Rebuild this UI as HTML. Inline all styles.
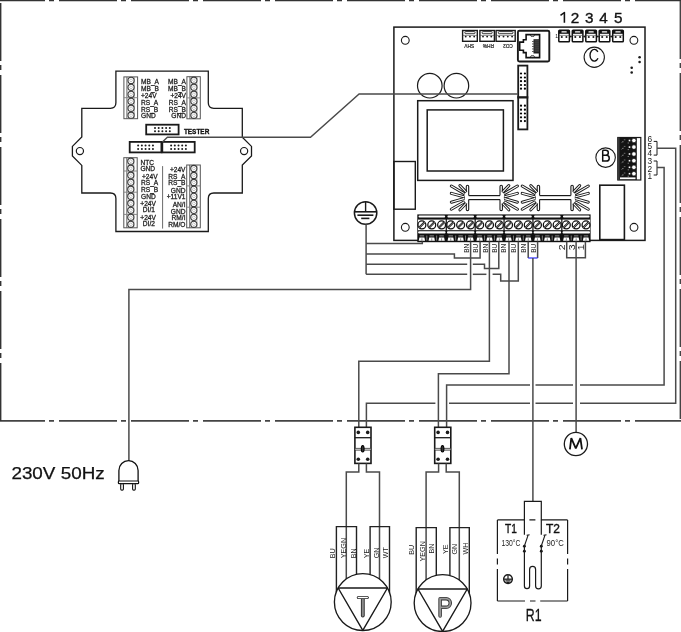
<!DOCTYPE html>
<html><head><meta charset="utf-8"><style>
html,body{margin:0;padding:0;background:#fff;}
svg{display:block;will-change:transform;}
text{font-family:"Liberation Sans", sans-serif;}
</style></head><body>
<svg width="681" height="632" viewBox="0 0 681 632">

<line x1="-13" y1="0.6" x2="681" y2="0.6" stroke="#333" stroke-width="1.5" stroke-dasharray="58 4 5 5"/>
<line x1="-13" y1="420.9" x2="681" y2="420.9" stroke="#444" stroke-width="1.6" stroke-dasharray="58 4 5 5"/>
<line x1="0.6" y1="3" x2="0.6" y2="421" stroke="#333" stroke-width="1.6" stroke-dasharray="58 4 5 5"/>
<line x1="680.35" y1="1" x2="680.35" y2="421" stroke="#444" stroke-width="1.5" stroke-dasharray="58 4 5 5"/>
<rect x="393.9" y="27.1" width="251.1" height="213.3" rx="0" fill="none" stroke="#1a1a1a" stroke-width="1.5" />
<circle cx="405.3" cy="40.3" r="3.9" fill="none" stroke="#1a1a1a" stroke-width="1.1"/>
<circle cx="633.9" cy="40.3" r="3.9" fill="none" stroke="#1a1a1a" stroke-width="1.1"/>
<circle cx="405.3" cy="227.3" r="3.9" fill="none" stroke="#1a1a1a" stroke-width="1.1"/>
<circle cx="634" cy="227.3" r="3.9" fill="none" stroke="#1a1a1a" stroke-width="1.1"/>
<circle cx="429.8" cy="85.7" r="12.3" fill="none" stroke="#1a1a1a" stroke-width="1.2"/>
<circle cx="456.4" cy="85.7" r="12.3" fill="none" stroke="#1a1a1a" stroke-width="1.2"/>
<rect x="417.7" y="100.7" width="95.3" height="79.7" rx="0" fill="none" stroke="#1a1a1a" stroke-width="1.5" />
<rect x="427.2" y="109.9" width="76.2" height="61.1" rx="0" fill="none" stroke="#1a1a1a" stroke-width="1.5" />
<rect x="393.9" y="161.5" width="21.4" height="47.7" rx="0" fill="none" stroke="#1a1a1a" stroke-width="1.4" />
<rect x="599.8" y="185.2" width="24.6" height="54.4" rx="0" fill="none" stroke="#1a1a1a" stroke-width="1.6" />
<rect x="518.2" y="65.6" width="9.2" height="63.8" rx="0" fill="none" stroke="#1a1a1a" stroke-width="1.8" />
<rect x="517.3" y="96.2" width="11.0" height="2.3" fill="#1a1a1a"/>
<circle cx="521" cy="73.5" r="1.1" fill="#000"/>
<circle cx="524.9" cy="73.5" r="1.1" fill="#000"/>
<circle cx="521" cy="77.5" r="1.1" fill="#000"/>
<circle cx="524.9" cy="77.5" r="1.1" fill="#000"/>
<circle cx="521" cy="81.2" r="1.1" fill="#000"/>
<circle cx="524.9" cy="81.2" r="1.1" fill="#000"/>
<circle cx="521" cy="85" r="1.1" fill="#000"/>
<circle cx="524.9" cy="85" r="1.1" fill="#000"/>
<circle cx="521" cy="88.7" r="1.1" fill="#000"/>
<circle cx="524.9" cy="88.7" r="1.1" fill="#000"/>
<circle cx="521" cy="105.7" r="1.1" fill="#000"/>
<circle cx="524.9" cy="105.7" r="1.1" fill="#000"/>
<circle cx="521" cy="109.7" r="1.1" fill="#000"/>
<circle cx="524.9" cy="109.7" r="1.1" fill="#000"/>
<circle cx="521" cy="113.5" r="1.1" fill="#000"/>
<circle cx="524.9" cy="113.5" r="1.1" fill="#000"/>
<circle cx="521" cy="117.3" r="1.1" fill="#000"/>
<circle cx="524.9" cy="117.3" r="1.1" fill="#000"/>
<circle cx="521" cy="121.1" r="1.1" fill="#000"/>
<circle cx="524.9" cy="121.1" r="1.1" fill="#000"/>
<rect x="517.9" y="30.8" width="31.4" height="30.7" rx="1.5" fill="none" stroke="#1a1a1a" stroke-width="1.9" />
<path d="M526.1,34.6 H539.6 V57.6 H526.1 V52.6 H523.4 V50.3 H519.7 V42.1 H523.4 V39.7 H526.1 Z" fill="none" stroke="#111" stroke-width="1.6"/>
<rect x="533.5" y="39.2" width="6.1" height="14.3" fill="#222"/>
<rect x="534.5" y="40.6" width="4.5" height="0.7" fill="#666"/>
<rect x="534.5" y="42.6" width="4.5" height="0.7" fill="#666"/>
<rect x="534.5" y="44.6" width="4.5" height="0.7" fill="#666"/>
<rect x="534.5" y="46.6" width="4.5" height="0.7" fill="#666"/>
<rect x="534.5" y="48.6" width="4.5" height="0.7" fill="#666"/>
<rect x="534.5" y="50.6" width="4.5" height="0.7" fill="#666"/>
<rect x="532.2" y="41" width="1.4" height="0.9" fill="#222"/>
<rect x="532.2" y="43.5" width="1.4" height="0.9" fill="#222"/>
<rect x="532.2" y="46" width="1.4" height="0.9" fill="#222"/>
<rect x="532.2" y="48.5" width="1.4" height="0.9" fill="#222"/>
<rect x="532.2" y="51" width="1.4" height="0.9" fill="#222"/>
<ellipse cx="532.5" cy="35.5" rx="2" ry="1" fill="none" stroke="#222" stroke-width="0.8"/>
<ellipse cx="532.5" cy="56.6" rx="2" ry="1" fill="none" stroke="#222" stroke-width="0.8"/>
<rect x="462.6" y="30.5" width="14.7" height="10.8" rx="0" fill="none" stroke="#1a1a1a" stroke-width="1.4" />
<rect x="464.8" y="31.6" width="10.3" height="2.1" rx="1" fill="#fff" stroke="#222" stroke-width="0.9"/>
<line x1="462.6" y1="35.4" x2="477.3" y2="35.4" stroke="#444" stroke-width="0.6" />
<circle cx="465.7" cy="36.6" r="0.95" fill="#1a1a1a"/>
<circle cx="469.95" cy="36.6" r="0.95" fill="#1a1a1a"/>
<circle cx="474.2" cy="36.6" r="0.95" fill="#1a1a1a"/>
<rect x="479.9" y="30.5" width="14.5" height="10.8" rx="0" fill="none" stroke="#1a1a1a" stroke-width="1.4" />
<rect x="482.09999999999997" y="31.6" width="10.1" height="2.1" rx="1" fill="#fff" stroke="#222" stroke-width="0.9"/>
<line x1="479.9" y1="35.4" x2="494.4" y2="35.4" stroke="#444" stroke-width="0.6" />
<circle cx="483.0" cy="36.6" r="0.95" fill="#1a1a1a"/>
<circle cx="487.15" cy="36.6" r="0.95" fill="#1a1a1a"/>
<circle cx="491.3" cy="36.6" r="0.95" fill="#1a1a1a"/>
<rect x="496.1" y="30.5" width="19.1" height="10.8" rx="0" fill="none" stroke="#1a1a1a" stroke-width="1.4" />
<rect x="498.3" y="31.6" width="14.7" height="2.1" rx="1" fill="#fff" stroke="#222" stroke-width="0.9"/>
<line x1="496.1" y1="35.4" x2="515.2" y2="35.4" stroke="#444" stroke-width="0.6" />
<circle cx="499.2" cy="36.6" r="0.95" fill="#1a1a1a"/>
<circle cx="503.5" cy="36.6" r="0.95" fill="#1a1a1a"/>
<circle cx="507.8" cy="36.6" r="0.95" fill="#1a1a1a"/>
<circle cx="512.1" cy="36.6" r="0.95" fill="#1a1a1a"/>
<g fill="#222" font-size="5" text-anchor="middle" stroke="#222" stroke-width="0.2"><text transform="translate(469.3,43.7) rotate(180)" textLength="9.8" lengthAdjust="spacingAndGlyphs">SHV</text><text transform="translate(488.4,43.7) rotate(180)" textLength="11" lengthAdjust="spacingAndGlyphs">RH%</text><text transform="translate(508,43.7) rotate(180)" textLength="9.7" lengthAdjust="spacingAndGlyphs">CO2</text></g>
<rect x="558.8" y="30.3" width="10.6" height="11.5" rx="0.8" fill="#fff" stroke="#111" stroke-width="1.5"/>
<rect x="558.8" y="30.3" width="10.6" height="3.5" fill="#111"/>
<rect x="561.4" y="31.2" width="5.4" height="1.4" rx="0.6" fill="#fff"/>
<line x1="558.8" y1="35.4" x2="569.4" y2="35.4" stroke="#444" stroke-width="0.6" />
<circle cx="561.8" cy="37" r="1.05" fill="#1a1a1a"/>
<circle cx="566.4" cy="37" r="1.05" fill="#1a1a1a"/>
<circle cx="570.8" cy="36.6" r="1.0" fill="#1a1a1a"/>
<rect x="572.3" y="30.3" width="10.6" height="11.5" rx="0.8" fill="#fff" stroke="#111" stroke-width="1.5"/>
<rect x="572.3" y="30.3" width="10.6" height="3.5" fill="#111"/>
<rect x="574.9" y="31.2" width="5.4" height="1.4" rx="0.6" fill="#fff"/>
<line x1="572.3" y1="35.4" x2="582.9" y2="35.4" stroke="#444" stroke-width="0.6" />
<circle cx="575.3" cy="37" r="1.05" fill="#1a1a1a"/>
<circle cx="579.9" cy="37" r="1.05" fill="#1a1a1a"/>
<circle cx="584.3" cy="36.6" r="1.0" fill="#1a1a1a"/>
<rect x="585.8" y="30.3" width="10.6" height="11.5" rx="0.8" fill="#fff" stroke="#111" stroke-width="1.5"/>
<rect x="585.8" y="30.3" width="10.6" height="3.5" fill="#111"/>
<rect x="588.4" y="31.2" width="5.4" height="1.4" rx="0.6" fill="#fff"/>
<line x1="585.8" y1="35.4" x2="596.4" y2="35.4" stroke="#444" stroke-width="0.6" />
<circle cx="588.8" cy="37" r="1.05" fill="#1a1a1a"/>
<circle cx="593.4" cy="37" r="1.05" fill="#1a1a1a"/>
<circle cx="597.8" cy="36.6" r="1.0" fill="#1a1a1a"/>
<rect x="599.2" y="30.3" width="10.6" height="11.5" rx="0.8" fill="#fff" stroke="#111" stroke-width="1.5"/>
<rect x="599.2" y="30.3" width="10.6" height="3.5" fill="#111"/>
<rect x="601.8000000000001" y="31.2" width="5.4" height="1.4" rx="0.6" fill="#fff"/>
<line x1="599.2" y1="35.4" x2="609.8000000000001" y2="35.4" stroke="#444" stroke-width="0.6" />
<circle cx="602.2" cy="37" r="1.05" fill="#1a1a1a"/>
<circle cx="606.8000000000001" cy="37" r="1.05" fill="#1a1a1a"/>
<circle cx="611.2" cy="36.6" r="1.0" fill="#1a1a1a"/>
<rect x="612.7" y="30.3" width="10.6" height="11.5" rx="0.8" fill="#fff" stroke="#111" stroke-width="1.5"/>
<rect x="612.7" y="30.3" width="10.6" height="3.5" fill="#111"/>
<rect x="615.3000000000001" y="31.2" width="5.4" height="1.4" rx="0.6" fill="#fff"/>
<line x1="612.7" y1="35.4" x2="623.3000000000001" y2="35.4" stroke="#444" stroke-width="0.6" />
<circle cx="615.7" cy="37" r="1.05" fill="#1a1a1a"/>
<circle cx="620.3000000000001" cy="37" r="1.05" fill="#1a1a1a"/>
<text x="555.3" y="38.3" font-size="5" fill="#111">1</text>
<path d="M560.5,15.4 L564.4,12.5 V22.8" fill="none" stroke="#111" stroke-width="1.55" stroke-linejoin="round"/>
<text x="575.1" y="22.8" font-size="15.3" text-anchor="middle" fill="#111" font-weight="normal" stroke="#111" stroke-width="0.35">2</text>
<text x="589.3" y="22.8" font-size="15.3" text-anchor="middle" fill="#111" font-weight="normal" stroke="#111" stroke-width="0.35">3</text>
<text x="603.6" y="22.8" font-size="15.3" text-anchor="middle" fill="#111" font-weight="normal" stroke="#111" stroke-width="0.35">4</text>
<text x="618.2" y="22.8" font-size="15.3" text-anchor="middle" fill="#111" font-weight="normal" stroke="#111" stroke-width="0.35">5</text>
<circle cx="594.25" cy="57.25" r="10.15" fill="none" stroke="#1a1a1a" stroke-width="1.1"/>
<path d="M597.85,51.9 A4.3,5.85 0 1 0 598.0,58.3" fill="none" stroke="#111" stroke-width="1.35"/>
<circle cx="639.6" cy="57.3" r="1.3" fill="#1a1a1a"/>
<circle cx="639.6" cy="62" r="1.3" fill="#1a1a1a"/>
<circle cx="631.7" cy="67.7" r="1.3" fill="#1a1a1a"/>
<circle cx="631.7" cy="72.5" r="1.3" fill="#1a1a1a"/>
<circle cx="605.6" cy="157.6" r="9.75" fill="none" stroke="#1a1a1a" stroke-width="1.1"/>
<path d="M602.7,150.3 V161 H606.4 A2.85,2.85 0 0 0 606.4,155.3 H602.7 M602.7,150.3 H605.8 A2.5,2.5 0 0 1 605.8,155.3" fill="none" stroke="#111" stroke-width="1.5"/>
<rect x="617.8" y="137.5" width="23.0" height="42.5" rx="0" fill="none" stroke="#1a1a1a" stroke-width="1.2" />
<rect x="617.8" y="137.5" width="19.0" height="42.5" fill="#141414"/>
<rect x="617.8" y="137.5" width="1.8" height="42.5" fill="#3a3a3a"/>
<circle cx="633.9" cy="140.5" r="2.25" fill="#fff" stroke="#111" stroke-width="0.7"/>
<rect x="628.7" y="139.7" width="1.6" height="1.6" fill="#fff"/>
<rect x="627.6" y="142.5" width="1.4" height="1.0" fill="#777"/>
<rect x="622.0" y="141.3" width="1.6" height="1.0" fill="#6a6a6a"/>
<rect x="623.8" y="139.3" width="1.6" height="1.0" fill="#6a6a6a"/>
<line x1="621.3" y1="143.1" x2="623.2" y2="141.1" stroke="#777" stroke-width="0.6"/>
<circle cx="633.9" cy="147.1" r="2.25" fill="#fff" stroke="#111" stroke-width="0.7"/>
<rect x="628.7" y="146.29999999999998" width="1.6" height="1.6" fill="#fff"/>
<rect x="627.6" y="149.1" width="1.4" height="1.0" fill="#777"/>
<rect x="622.0" y="147.9" width="1.6" height="1.0" fill="#6a6a6a"/>
<rect x="623.8" y="145.9" width="1.6" height="1.0" fill="#6a6a6a"/>
<line x1="621.3" y1="149.7" x2="623.2" y2="147.7" stroke="#777" stroke-width="0.6"/>
<circle cx="633.9" cy="154" r="2.25" fill="#fff" stroke="#111" stroke-width="0.7"/>
<rect x="628.7" y="153.2" width="1.6" height="1.6" fill="#fff"/>
<rect x="627.6" y="156.0" width="1.4" height="1.0" fill="#777"/>
<rect x="622.0" y="154.8" width="1.6" height="1.0" fill="#6a6a6a"/>
<rect x="623.8" y="152.8" width="1.6" height="1.0" fill="#6a6a6a"/>
<line x1="621.3" y1="156.6" x2="623.2" y2="154.6" stroke="#777" stroke-width="0.6"/>
<circle cx="633.9" cy="160.7" r="2.25" fill="#fff" stroke="#111" stroke-width="0.7"/>
<rect x="628.7" y="159.89999999999998" width="1.6" height="1.6" fill="#fff"/>
<rect x="627.6" y="162.7" width="1.4" height="1.0" fill="#777"/>
<rect x="622.0" y="161.5" width="1.6" height="1.0" fill="#6a6a6a"/>
<rect x="623.8" y="159.5" width="1.6" height="1.0" fill="#6a6a6a"/>
<line x1="621.3" y1="163.29999999999998" x2="623.2" y2="161.29999999999998" stroke="#777" stroke-width="0.6"/>
<circle cx="633.9" cy="167.3" r="2.25" fill="#fff" stroke="#111" stroke-width="0.7"/>
<rect x="628.7" y="166.5" width="1.6" height="1.6" fill="#fff"/>
<rect x="627.6" y="169.3" width="1.4" height="1.0" fill="#777"/>
<rect x="622.0" y="168.10000000000002" width="1.6" height="1.0" fill="#6a6a6a"/>
<rect x="623.8" y="166.10000000000002" width="1.6" height="1.0" fill="#6a6a6a"/>
<line x1="621.3" y1="169.9" x2="623.2" y2="167.9" stroke="#777" stroke-width="0.6"/>
<circle cx="633.9" cy="173.7" r="2.25" fill="#fff" stroke="#111" stroke-width="0.7"/>
<rect x="628.7" y="172.89999999999998" width="1.6" height="1.6" fill="#fff"/>
<rect x="627.6" y="175.7" width="1.4" height="1.0" fill="#777"/>
<rect x="622.0" y="174.5" width="1.6" height="1.0" fill="#6a6a6a"/>
<rect x="623.8" y="172.5" width="1.6" height="1.0" fill="#6a6a6a"/>
<line x1="621.3" y1="176.29999999999998" x2="623.2" y2="174.29999999999998" stroke="#777" stroke-width="0.6"/>
<rect x="620" y="177.4" width="15.5" height="1.8" fill="#fff"/>
<text x="649.9" y="141.70000000000002" font-size="8.3" text-anchor="middle" fill="#222" font-weight="normal" >6</text>
<text x="649.9" y="148.9" font-size="8.3" text-anchor="middle" fill="#222" font-weight="normal" >5</text>
<text x="649.9" y="156.1" font-size="8.3" text-anchor="middle" fill="#222" font-weight="normal" >4</text>
<text x="649.9" y="163.9" font-size="8.3" text-anchor="middle" fill="#222" font-weight="normal" >3</text>
<text x="649.9" y="171.6" font-size="8.3" text-anchor="middle" fill="#222" font-weight="normal" >2</text>
<text x="649.9" y="178.8" font-size="8.3" text-anchor="middle" fill="#222" font-weight="normal" >1</text>
<polyline points="653.7,141.4 657,141.4 657,155.1 653.7,155.1" fill="none" stroke="#1a1a1a" stroke-width="1" stroke-linejoin="miter" />
<polyline points="653.7,161 657,161 657,175 653.7,175" fill="none" stroke="#1a1a1a" stroke-width="1" stroke-linejoin="miter" />
<line x1="451.30" y1="186.0" x2="463.90" y2="193.4" stroke="#1a1a1a" stroke-width="3.0" stroke-linecap="round"/>
<line x1="459.90" y1="185.6" x2="465.70" y2="191.6" stroke="#1a1a1a" stroke-width="3.0" stroke-linecap="round"/>
<line x1="451.30" y1="193.4" x2="463.90" y2="196.8" stroke="#1a1a1a" stroke-width="3.0" stroke-linecap="round"/>
<line x1="451.30" y1="202.2" x2="463.90" y2="198.6" stroke="#1a1a1a" stroke-width="3.0" stroke-linecap="round"/>
<line x1="451.30" y1="209.3" x2="463.90" y2="202.0" stroke="#1a1a1a" stroke-width="3.0" stroke-linecap="round"/>
<line x1="459.90" y1="209.8" x2="465.70" y2="203.8" stroke="#1a1a1a" stroke-width="3.0" stroke-linecap="round"/>
<line x1="451.30" y1="186.0" x2="463.90" y2="193.4" stroke="#fff" stroke-width="1.1" stroke-linecap="round"/>
<line x1="459.90" y1="185.6" x2="465.70" y2="191.6" stroke="#fff" stroke-width="1.1" stroke-linecap="round"/>
<line x1="451.30" y1="193.4" x2="463.90" y2="196.8" stroke="#fff" stroke-width="1.1" stroke-linecap="round"/>
<line x1="451.30" y1="202.2" x2="463.90" y2="198.6" stroke="#fff" stroke-width="1.1" stroke-linecap="round"/>
<line x1="451.30" y1="209.3" x2="463.90" y2="202.0" stroke="#fff" stroke-width="1.1" stroke-linecap="round"/>
<line x1="459.90" y1="209.8" x2="465.70" y2="203.8" stroke="#fff" stroke-width="1.1" stroke-linecap="round"/>
<path d="M467.50,191.2 L464.50,193.9 L464.90,197.7 L464.50,201.5 L467.50,204.2 Z" fill="#fff"/>
<path d="M468.70,195.6 V186.4 A1.2,1.2 0 0 0 466.30,186.4 V191.2" fill="none" stroke="#1a1a1a" stroke-width="1.1"/>
<path d="M468.70,199.6 V209.4 A1.2,1.2 0 0 1 466.30,209.4 V204.2" fill="none" stroke="#1a1a1a" stroke-width="1.1"/>
<line x1="517.40" y1="186.0" x2="504.80" y2="193.4" stroke="#1a1a1a" stroke-width="3.0" stroke-linecap="round"/>
<line x1="508.80" y1="185.6" x2="503.00" y2="191.6" stroke="#1a1a1a" stroke-width="3.0" stroke-linecap="round"/>
<line x1="517.40" y1="193.4" x2="504.80" y2="196.8" stroke="#1a1a1a" stroke-width="3.0" stroke-linecap="round"/>
<line x1="517.40" y1="202.2" x2="504.80" y2="198.6" stroke="#1a1a1a" stroke-width="3.0" stroke-linecap="round"/>
<line x1="517.40" y1="209.3" x2="504.80" y2="202.0" stroke="#1a1a1a" stroke-width="3.0" stroke-linecap="round"/>
<line x1="508.80" y1="209.8" x2="503.00" y2="203.8" stroke="#1a1a1a" stroke-width="3.0" stroke-linecap="round"/>
<line x1="517.40" y1="186.0" x2="504.80" y2="193.4" stroke="#fff" stroke-width="1.1" stroke-linecap="round"/>
<line x1="508.80" y1="185.6" x2="503.00" y2="191.6" stroke="#fff" stroke-width="1.1" stroke-linecap="round"/>
<line x1="517.40" y1="193.4" x2="504.80" y2="196.8" stroke="#fff" stroke-width="1.1" stroke-linecap="round"/>
<line x1="517.40" y1="202.2" x2="504.80" y2="198.6" stroke="#fff" stroke-width="1.1" stroke-linecap="round"/>
<line x1="517.40" y1="209.3" x2="504.80" y2="202.0" stroke="#fff" stroke-width="1.1" stroke-linecap="round"/>
<line x1="508.80" y1="209.8" x2="503.00" y2="203.8" stroke="#fff" stroke-width="1.1" stroke-linecap="round"/>
<path d="M501.20,191.2 L504.20,193.9 L503.80,197.7 L504.20,201.5 L501.20,204.2 Z" fill="#fff"/>
<path d="M500.00,195.6 V186.4 A1.2,1.2 0 0 1 502.40,186.4 V191.2" fill="none" stroke="#1a1a1a" stroke-width="1.1"/>
<path d="M500.00,199.6 V209.4 A1.2,1.2 0 0 0 502.40,209.4 V204.2" fill="none" stroke="#1a1a1a" stroke-width="1.1"/>
<line x1="468.7" y1="195.6" x2="500.0" y2="195.6" stroke="#1a1a1a" stroke-width="1.2" />
<line x1="468.7" y1="199.6" x2="500.0" y2="199.6" stroke="#1a1a1a" stroke-width="1.2" />
<line x1="522.20" y1="186.0" x2="534.80" y2="193.4" stroke="#1a1a1a" stroke-width="3.0" stroke-linecap="round"/>
<line x1="530.80" y1="185.6" x2="536.60" y2="191.6" stroke="#1a1a1a" stroke-width="3.0" stroke-linecap="round"/>
<line x1="522.20" y1="193.4" x2="534.80" y2="196.8" stroke="#1a1a1a" stroke-width="3.0" stroke-linecap="round"/>
<line x1="522.20" y1="202.2" x2="534.80" y2="198.6" stroke="#1a1a1a" stroke-width="3.0" stroke-linecap="round"/>
<line x1="522.20" y1="209.3" x2="534.80" y2="202.0" stroke="#1a1a1a" stroke-width="3.0" stroke-linecap="round"/>
<line x1="530.80" y1="209.8" x2="536.60" y2="203.8" stroke="#1a1a1a" stroke-width="3.0" stroke-linecap="round"/>
<line x1="522.20" y1="186.0" x2="534.80" y2="193.4" stroke="#fff" stroke-width="1.1" stroke-linecap="round"/>
<line x1="530.80" y1="185.6" x2="536.60" y2="191.6" stroke="#fff" stroke-width="1.1" stroke-linecap="round"/>
<line x1="522.20" y1="193.4" x2="534.80" y2="196.8" stroke="#fff" stroke-width="1.1" stroke-linecap="round"/>
<line x1="522.20" y1="202.2" x2="534.80" y2="198.6" stroke="#fff" stroke-width="1.1" stroke-linecap="round"/>
<line x1="522.20" y1="209.3" x2="534.80" y2="202.0" stroke="#fff" stroke-width="1.1" stroke-linecap="round"/>
<line x1="530.80" y1="209.8" x2="536.60" y2="203.8" stroke="#fff" stroke-width="1.1" stroke-linecap="round"/>
<path d="M538.40,191.2 L535.40,193.9 L535.80,197.7 L535.40,201.5 L538.40,204.2 Z" fill="#fff"/>
<path d="M539.60,195.6 V186.4 A1.2,1.2 0 0 0 537.20,186.4 V191.2" fill="none" stroke="#1a1a1a" stroke-width="1.1"/>
<path d="M539.60,199.6 V209.4 A1.2,1.2 0 0 1 537.20,209.4 V204.2" fill="none" stroke="#1a1a1a" stroke-width="1.1"/>
<line x1="588.30" y1="186.0" x2="575.70" y2="193.4" stroke="#1a1a1a" stroke-width="3.0" stroke-linecap="round"/>
<line x1="579.70" y1="185.6" x2="573.90" y2="191.6" stroke="#1a1a1a" stroke-width="3.0" stroke-linecap="round"/>
<line x1="588.30" y1="193.4" x2="575.70" y2="196.8" stroke="#1a1a1a" stroke-width="3.0" stroke-linecap="round"/>
<line x1="588.30" y1="202.2" x2="575.70" y2="198.6" stroke="#1a1a1a" stroke-width="3.0" stroke-linecap="round"/>
<line x1="588.30" y1="209.3" x2="575.70" y2="202.0" stroke="#1a1a1a" stroke-width="3.0" stroke-linecap="round"/>
<line x1="579.70" y1="209.8" x2="573.90" y2="203.8" stroke="#1a1a1a" stroke-width="3.0" stroke-linecap="round"/>
<line x1="588.30" y1="186.0" x2="575.70" y2="193.4" stroke="#fff" stroke-width="1.1" stroke-linecap="round"/>
<line x1="579.70" y1="185.6" x2="573.90" y2="191.6" stroke="#fff" stroke-width="1.1" stroke-linecap="round"/>
<line x1="588.30" y1="193.4" x2="575.70" y2="196.8" stroke="#fff" stroke-width="1.1" stroke-linecap="round"/>
<line x1="588.30" y1="202.2" x2="575.70" y2="198.6" stroke="#fff" stroke-width="1.1" stroke-linecap="round"/>
<line x1="588.30" y1="209.3" x2="575.70" y2="202.0" stroke="#fff" stroke-width="1.1" stroke-linecap="round"/>
<line x1="579.70" y1="209.8" x2="573.90" y2="203.8" stroke="#fff" stroke-width="1.1" stroke-linecap="round"/>
<path d="M572.10,191.2 L575.10,193.9 L574.70,197.7 L575.10,201.5 L572.10,204.2 Z" fill="#fff"/>
<path d="M570.90,195.6 V186.4 A1.2,1.2 0 0 1 573.30,186.4 V191.2" fill="none" stroke="#1a1a1a" stroke-width="1.1"/>
<path d="M570.90,199.6 V209.4 A1.2,1.2 0 0 0 573.30,209.4 V204.2" fill="none" stroke="#1a1a1a" stroke-width="1.1"/>
<line x1="539.6" y1="195.6" x2="570.9" y2="195.6" stroke="#1a1a1a" stroke-width="1.2" />
<line x1="539.6" y1="199.6" x2="570.9" y2="199.6" stroke="#1a1a1a" stroke-width="1.2" />
<rect x="417.3" y="214.4" width="173.3" height="27.8" fill="#111"/>
<rect x="418.50" y="215.6" width="26.68" height="2.0" rx="1" fill="#fff"/>
<rect x="418.0" y="219.6" width="27.68" height="10.6" fill="#fff"/>
<rect x="418.10" y="231.2" width="27.48" height="2.4" rx="1" fill="#fff"/>
<circle cx="421.90" cy="224.9" r="3.95" fill="#fff" stroke="#111" stroke-width="1.3"/>
<line x1="419.30" y1="227.5" x2="424.50" y2="222.3" stroke="#111" stroke-width="2.0"/>
<line x1="419.30" y1="227.5" x2="424.50" y2="222.3" stroke="#fff" stroke-width="0.5"/>
<line x1="419.70" y1="235.9" x2="424.10" y2="235.9" stroke="#9a9a9a" stroke-width="0.9"/>
<path d="M418.70,240.8 L419.40,237.6 H424.40 L425.10,240.8 Z" fill="#fff"/>
<line x1="421.90" y1="238.3" x2="421.90" y2="240.8" stroke="#555" stroke-width="0.7"/>
<line x1="426.80" y1="235.5" x2="426.80" y2="240.5" stroke="#888" stroke-width="0.9"/>
<circle cx="431.75" cy="224.9" r="3.95" fill="#fff" stroke="#111" stroke-width="1.3"/>
<line x1="429.15" y1="227.5" x2="434.35" y2="222.3" stroke="#111" stroke-width="2.0"/>
<line x1="429.15" y1="227.5" x2="434.35" y2="222.3" stroke="#fff" stroke-width="0.5"/>
<line x1="429.55" y1="235.9" x2="433.95" y2="235.9" stroke="#9a9a9a" stroke-width="0.9"/>
<path d="M428.55,240.8 L429.25,237.6 H434.25 L434.95,240.8 Z" fill="#fff"/>
<line x1="431.75" y1="238.3" x2="431.75" y2="240.8" stroke="#555" stroke-width="0.7"/>
<line x1="436.65" y1="235.5" x2="436.65" y2="240.5" stroke="#888" stroke-width="0.9"/>
<circle cx="441.60" cy="224.9" r="3.95" fill="#fff" stroke="#111" stroke-width="1.3"/>
<line x1="439.00" y1="227.5" x2="444.20" y2="222.3" stroke="#111" stroke-width="2.0"/>
<line x1="439.00" y1="227.5" x2="444.20" y2="222.3" stroke="#fff" stroke-width="0.5"/>
<line x1="439.40" y1="235.9" x2="443.80" y2="235.9" stroke="#9a9a9a" stroke-width="0.9"/>
<path d="M438.40,240.8 L439.10,237.6 H444.10 L444.80,240.8 Z" fill="#fff"/>
<line x1="441.60" y1="238.3" x2="441.60" y2="240.8" stroke="#555" stroke-width="0.7"/>
<rect x="447.38" y="215.6" width="26.68" height="2.0" rx="1" fill="#fff"/>
<rect x="446.88" y="219.6" width="27.69" height="10.6" fill="#fff"/>
<rect x="446.98" y="231.2" width="27.48" height="2.4" rx="1" fill="#fff"/>
<circle cx="450.78" cy="224.9" r="3.95" fill="#fff" stroke="#111" stroke-width="1.3"/>
<line x1="448.18" y1="227.5" x2="453.38" y2="222.3" stroke="#111" stroke-width="2.0"/>
<line x1="448.18" y1="227.5" x2="453.38" y2="222.3" stroke="#fff" stroke-width="0.5"/>
<line x1="448.58" y1="235.9" x2="452.98" y2="235.9" stroke="#9a9a9a" stroke-width="0.9"/>
<path d="M447.58,240.8 L448.28,237.6 H453.28 L453.98,240.8 Z" fill="#fff"/>
<line x1="450.78" y1="238.3" x2="450.78" y2="240.8" stroke="#555" stroke-width="0.7"/>
<line x1="455.68" y1="235.5" x2="455.68" y2="240.5" stroke="#888" stroke-width="0.9"/>
<circle cx="460.63" cy="224.9" r="3.95" fill="#fff" stroke="#111" stroke-width="1.3"/>
<line x1="458.03" y1="227.5" x2="463.23" y2="222.3" stroke="#111" stroke-width="2.0"/>
<line x1="458.03" y1="227.5" x2="463.23" y2="222.3" stroke="#fff" stroke-width="0.5"/>
<line x1="458.43" y1="235.9" x2="462.83" y2="235.9" stroke="#9a9a9a" stroke-width="0.9"/>
<path d="M457.43,240.8 L458.13,237.6 H463.13 L463.83,240.8 Z" fill="#fff"/>
<line x1="460.63" y1="238.3" x2="460.63" y2="240.8" stroke="#555" stroke-width="0.7"/>
<line x1="465.53" y1="235.5" x2="465.53" y2="240.5" stroke="#888" stroke-width="0.9"/>
<circle cx="470.48" cy="224.9" r="3.95" fill="#fff" stroke="#111" stroke-width="1.3"/>
<line x1="467.88" y1="227.5" x2="473.08" y2="222.3" stroke="#111" stroke-width="2.0"/>
<line x1="467.88" y1="227.5" x2="473.08" y2="222.3" stroke="#fff" stroke-width="0.5"/>
<line x1="468.28" y1="235.9" x2="472.68" y2="235.9" stroke="#9a9a9a" stroke-width="0.9"/>
<path d="M467.28,240.8 L467.98,237.6 H472.98 L473.68,240.8 Z" fill="#fff"/>
<line x1="470.48" y1="238.3" x2="470.48" y2="240.8" stroke="#555" stroke-width="0.7"/>
<rect x="476.27" y="215.6" width="26.68" height="2.0" rx="1" fill="#fff"/>
<rect x="475.77" y="219.6" width="27.68" height="10.6" fill="#fff"/>
<rect x="475.87" y="231.2" width="27.48" height="2.4" rx="1" fill="#fff"/>
<circle cx="479.67" cy="224.9" r="3.95" fill="#fff" stroke="#111" stroke-width="1.3"/>
<line x1="477.07" y1="227.5" x2="482.27" y2="222.3" stroke="#111" stroke-width="2.0"/>
<line x1="477.07" y1="227.5" x2="482.27" y2="222.3" stroke="#fff" stroke-width="0.5"/>
<line x1="477.47" y1="235.9" x2="481.87" y2="235.9" stroke="#9a9a9a" stroke-width="0.9"/>
<path d="M476.47,240.8 L477.17,237.6 H482.17 L482.87,240.8 Z" fill="#fff"/>
<line x1="479.67" y1="238.3" x2="479.67" y2="240.8" stroke="#555" stroke-width="0.7"/>
<line x1="484.57" y1="235.5" x2="484.57" y2="240.5" stroke="#888" stroke-width="0.9"/>
<circle cx="489.52" cy="224.9" r="3.95" fill="#fff" stroke="#111" stroke-width="1.3"/>
<line x1="486.92" y1="227.5" x2="492.12" y2="222.3" stroke="#111" stroke-width="2.0"/>
<line x1="486.92" y1="227.5" x2="492.12" y2="222.3" stroke="#fff" stroke-width="0.5"/>
<line x1="487.32" y1="235.9" x2="491.72" y2="235.9" stroke="#9a9a9a" stroke-width="0.9"/>
<path d="M486.32,240.8 L487.02,237.6 H492.02 L492.72,240.8 Z" fill="#fff"/>
<line x1="489.52" y1="238.3" x2="489.52" y2="240.8" stroke="#555" stroke-width="0.7"/>
<line x1="494.42" y1="235.5" x2="494.42" y2="240.5" stroke="#888" stroke-width="0.9"/>
<circle cx="499.37" cy="224.9" r="3.95" fill="#fff" stroke="#111" stroke-width="1.3"/>
<line x1="496.77" y1="227.5" x2="501.97" y2="222.3" stroke="#111" stroke-width="2.0"/>
<line x1="496.77" y1="227.5" x2="501.97" y2="222.3" stroke="#fff" stroke-width="0.5"/>
<line x1="497.17" y1="235.9" x2="501.57" y2="235.9" stroke="#9a9a9a" stroke-width="0.9"/>
<path d="M496.17,240.8 L496.87,237.6 H501.87 L502.57,240.8 Z" fill="#fff"/>
<line x1="499.37" y1="238.3" x2="499.37" y2="240.8" stroke="#555" stroke-width="0.7"/>
<rect x="505.15" y="215.6" width="26.68" height="2.0" rx="1" fill="#fff"/>
<rect x="504.65" y="219.6" width="27.68" height="10.6" fill="#fff"/>
<rect x="504.75" y="231.2" width="27.48" height="2.4" rx="1" fill="#fff"/>
<circle cx="508.55" cy="224.9" r="3.95" fill="#fff" stroke="#111" stroke-width="1.3"/>
<line x1="505.95" y1="227.5" x2="511.15" y2="222.3" stroke="#111" stroke-width="2.0"/>
<line x1="505.95" y1="227.5" x2="511.15" y2="222.3" stroke="#fff" stroke-width="0.5"/>
<line x1="506.35" y1="235.9" x2="510.75" y2="235.9" stroke="#9a9a9a" stroke-width="0.9"/>
<path d="M505.35,240.8 L506.05,237.6 H511.05 L511.75,240.8 Z" fill="#fff"/>
<line x1="508.55" y1="238.3" x2="508.55" y2="240.8" stroke="#555" stroke-width="0.7"/>
<line x1="513.45" y1="235.5" x2="513.45" y2="240.5" stroke="#888" stroke-width="0.9"/>
<circle cx="518.40" cy="224.9" r="3.95" fill="#fff" stroke="#111" stroke-width="1.3"/>
<line x1="515.80" y1="227.5" x2="521.00" y2="222.3" stroke="#111" stroke-width="2.0"/>
<line x1="515.80" y1="227.5" x2="521.00" y2="222.3" stroke="#fff" stroke-width="0.5"/>
<line x1="516.20" y1="235.9" x2="520.60" y2="235.9" stroke="#9a9a9a" stroke-width="0.9"/>
<path d="M515.20,240.8 L515.90,237.6 H520.90 L521.60,240.8 Z" fill="#fff"/>
<line x1="518.40" y1="238.3" x2="518.40" y2="240.8" stroke="#555" stroke-width="0.7"/>
<line x1="523.30" y1="235.5" x2="523.30" y2="240.5" stroke="#888" stroke-width="0.9"/>
<circle cx="528.25" cy="224.9" r="3.95" fill="#fff" stroke="#111" stroke-width="1.3"/>
<line x1="525.65" y1="227.5" x2="530.85" y2="222.3" stroke="#111" stroke-width="2.0"/>
<line x1="525.65" y1="227.5" x2="530.85" y2="222.3" stroke="#fff" stroke-width="0.5"/>
<line x1="526.05" y1="235.9" x2="530.45" y2="235.9" stroke="#9a9a9a" stroke-width="0.9"/>
<path d="M525.05,240.8 L525.75,237.6 H530.75 L531.45,240.8 Z" fill="#fff"/>
<line x1="528.25" y1="238.3" x2="528.25" y2="240.8" stroke="#555" stroke-width="0.7"/>
<rect x="534.03" y="215.6" width="26.68" height="2.0" rx="1" fill="#fff"/>
<rect x="533.53" y="219.6" width="27.69" height="10.6" fill="#fff"/>
<rect x="533.63" y="231.2" width="27.48" height="2.4" rx="1" fill="#fff"/>
<circle cx="537.43" cy="224.9" r="3.95" fill="#fff" stroke="#111" stroke-width="1.3"/>
<line x1="534.83" y1="227.5" x2="540.03" y2="222.3" stroke="#111" stroke-width="2.0"/>
<line x1="534.83" y1="227.5" x2="540.03" y2="222.3" stroke="#fff" stroke-width="0.5"/>
<line x1="535.23" y1="235.9" x2="539.63" y2="235.9" stroke="#9a9a9a" stroke-width="0.9"/>
<path d="M534.23,240.8 L534.93,237.6 H539.93 L540.63,240.8 Z" fill="#fff"/>
<line x1="537.43" y1="238.3" x2="537.43" y2="240.8" stroke="#555" stroke-width="0.7"/>
<line x1="542.33" y1="235.5" x2="542.33" y2="240.5" stroke="#888" stroke-width="0.9"/>
<circle cx="547.28" cy="224.9" r="3.95" fill="#fff" stroke="#111" stroke-width="1.3"/>
<line x1="544.68" y1="227.5" x2="549.88" y2="222.3" stroke="#111" stroke-width="2.0"/>
<line x1="544.68" y1="227.5" x2="549.88" y2="222.3" stroke="#fff" stroke-width="0.5"/>
<line x1="545.08" y1="235.9" x2="549.48" y2="235.9" stroke="#9a9a9a" stroke-width="0.9"/>
<path d="M544.08,240.8 L544.78,237.6 H549.78 L550.48,240.8 Z" fill="#fff"/>
<line x1="547.28" y1="238.3" x2="547.28" y2="240.8" stroke="#555" stroke-width="0.7"/>
<line x1="552.18" y1="235.5" x2="552.18" y2="240.5" stroke="#888" stroke-width="0.9"/>
<circle cx="557.13" cy="224.9" r="3.95" fill="#fff" stroke="#111" stroke-width="1.3"/>
<line x1="554.53" y1="227.5" x2="559.73" y2="222.3" stroke="#111" stroke-width="2.0"/>
<line x1="554.53" y1="227.5" x2="559.73" y2="222.3" stroke="#fff" stroke-width="0.5"/>
<line x1="554.93" y1="235.9" x2="559.33" y2="235.9" stroke="#9a9a9a" stroke-width="0.9"/>
<path d="M553.93,240.8 L554.63,237.6 H559.63 L560.33,240.8 Z" fill="#fff"/>
<line x1="557.13" y1="238.3" x2="557.13" y2="240.8" stroke="#555" stroke-width="0.7"/>
<rect x="562.92" y="215.6" width="26.68" height="2.0" rx="1" fill="#fff"/>
<rect x="562.42" y="219.6" width="27.68" height="10.6" fill="#fff"/>
<rect x="562.52" y="231.2" width="27.48" height="2.4" rx="1" fill="#fff"/>
<circle cx="566.32" cy="224.9" r="3.95" fill="#fff" stroke="#111" stroke-width="1.3"/>
<line x1="563.72" y1="227.5" x2="568.92" y2="222.3" stroke="#111" stroke-width="2.0"/>
<line x1="563.72" y1="227.5" x2="568.92" y2="222.3" stroke="#fff" stroke-width="0.5"/>
<line x1="564.12" y1="235.9" x2="568.52" y2="235.9" stroke="#9a9a9a" stroke-width="0.9"/>
<path d="M563.12,240.8 L563.82,237.6 H568.82 L569.52,240.8 Z" fill="#fff"/>
<line x1="566.32" y1="238.3" x2="566.32" y2="240.8" stroke="#555" stroke-width="0.7"/>
<line x1="571.22" y1="235.5" x2="571.22" y2="240.5" stroke="#888" stroke-width="0.9"/>
<circle cx="576.17" cy="224.9" r="3.95" fill="#fff" stroke="#111" stroke-width="1.3"/>
<line x1="573.57" y1="227.5" x2="578.77" y2="222.3" stroke="#111" stroke-width="2.0"/>
<line x1="573.57" y1="227.5" x2="578.77" y2="222.3" stroke="#fff" stroke-width="0.5"/>
<line x1="573.97" y1="235.9" x2="578.37" y2="235.9" stroke="#9a9a9a" stroke-width="0.9"/>
<path d="M572.97,240.8 L573.67,237.6 H578.67 L579.37,240.8 Z" fill="#fff"/>
<line x1="576.17" y1="238.3" x2="576.17" y2="240.8" stroke="#555" stroke-width="0.7"/>
<line x1="581.07" y1="235.5" x2="581.07" y2="240.5" stroke="#888" stroke-width="0.9"/>
<circle cx="586.02" cy="224.9" r="3.95" fill="#fff" stroke="#111" stroke-width="1.3"/>
<line x1="583.42" y1="227.5" x2="588.62" y2="222.3" stroke="#111" stroke-width="2.0"/>
<line x1="583.42" y1="227.5" x2="588.62" y2="222.3" stroke="#fff" stroke-width="0.5"/>
<line x1="583.82" y1="235.9" x2="588.22" y2="235.9" stroke="#9a9a9a" stroke-width="0.9"/>
<path d="M582.82,240.8 L583.52,237.6 H588.52 L589.22,240.8 Z" fill="#fff"/>
<line x1="586.02" y1="238.3" x2="586.02" y2="240.8" stroke="#555" stroke-width="0.7"/>
<path d="M115.9,71.1 H208.3 V102.8 Q208.3,108.3 213.8,108.3 H242.3 V137.2 L251.5,146.4 V155.9 L242.3,165.1 V193 H213.8 Q208.3,193 208.3,198.5 V231.5 H115.9 V198.5 Q115.9,193 110.4,193 H81.8 V165.4 L72.4,155.9 V146.4 L81.8,136.9 V108.3 H110.4 Q115.9,108.3 115.9,102.8 Z" fill="none" stroke="#1a1a1a" stroke-width="1.3"/>
<circle cx="79.9" cy="151.1" r="3.6" fill="none" stroke="#1a1a1a" stroke-width="1.2"/>
<circle cx="244.1" cy="151.1" r="3.6" fill="none" stroke="#1a1a1a" stroke-width="1.2"/>
<rect x="123.9" y="76.9" width="13.7" height="41.8" rx="0" fill="none" stroke="#555" stroke-width="1.0" />
<line x1="126.9" y1="76.9" x2="126.9" y2="118.7" stroke="#555" stroke-width="0.9" />
<line x1="134.2" y1="76.9" x2="134.2" y2="118.7" stroke="#888" stroke-width="0.7" />
<line x1="123.9" y1="97.7" x2="137.6" y2="97.7" stroke="#888" stroke-width="1.0" />
<circle cx="131.05" cy="80.38" r="3.1" fill="#fff" stroke="#3c3c3c" stroke-width="1.1"/>
<path d="M129.45,80.38 L131.05,78.78 L132.65,80.38 L131.05,81.98 Z" fill="none" stroke="#999" stroke-width="0.6"/>
<circle cx="131.05" cy="87.35" r="3.1" fill="#fff" stroke="#3c3c3c" stroke-width="1.1"/>
<path d="M129.45,87.35 L131.05,85.75 L132.65,87.35 L131.05,88.95 Z" fill="none" stroke="#999" stroke-width="0.6"/>
<circle cx="131.05" cy="94.32" r="3.1" fill="#fff" stroke="#3c3c3c" stroke-width="1.1"/>
<path d="M129.45,94.32 L131.05,92.72 L132.65,94.32 L131.05,95.92 Z" fill="none" stroke="#999" stroke-width="0.6"/>
<circle cx="131.05" cy="101.28" r="3.1" fill="#fff" stroke="#3c3c3c" stroke-width="1.1"/>
<path d="M129.45,101.28 L131.05,99.68 L132.65,101.28 L131.05,102.88 Z" fill="none" stroke="#999" stroke-width="0.6"/>
<circle cx="131.05" cy="108.25" r="3.1" fill="#fff" stroke="#3c3c3c" stroke-width="1.1"/>
<path d="M129.45,108.25 L131.05,106.65 L132.65,108.25 L131.05,109.85 Z" fill="none" stroke="#999" stroke-width="0.6"/>
<circle cx="131.05" cy="115.22" r="3.1" fill="#fff" stroke="#3c3c3c" stroke-width="1.1"/>
<path d="M129.45,115.22 L131.05,113.62 L132.65,115.22 L131.05,116.82 Z" fill="none" stroke="#999" stroke-width="0.6"/>
<rect x="186.9" y="76.7" width="13.4" height="42.1" rx="0" fill="none" stroke="#555" stroke-width="1.0" />
<line x1="189.9" y1="76.7" x2="189.9" y2="118.8" stroke="#555" stroke-width="0.9" />
<line x1="196.9" y1="76.7" x2="196.9" y2="118.8" stroke="#888" stroke-width="0.7" />
<line x1="186.9" y1="97.9" x2="200.3" y2="97.9" stroke="#888" stroke-width="1.0" />
<circle cx="193.90" cy="80.21" r="3.1" fill="#fff" stroke="#3c3c3c" stroke-width="1.1"/>
<path d="M192.30,80.21 L193.90,78.61 L195.50,80.21 L193.90,81.81 Z" fill="none" stroke="#999" stroke-width="0.6"/>
<circle cx="193.90" cy="87.22" r="3.1" fill="#fff" stroke="#3c3c3c" stroke-width="1.1"/>
<path d="M192.30,87.22 L193.90,85.62 L195.50,87.22 L193.90,88.82 Z" fill="none" stroke="#999" stroke-width="0.6"/>
<circle cx="193.90" cy="94.24" r="3.1" fill="#fff" stroke="#3c3c3c" stroke-width="1.1"/>
<path d="M192.30,94.24 L193.90,92.64 L195.50,94.24 L193.90,95.84 Z" fill="none" stroke="#999" stroke-width="0.6"/>
<circle cx="193.90" cy="101.26" r="3.1" fill="#fff" stroke="#3c3c3c" stroke-width="1.1"/>
<path d="M192.30,101.26 L193.90,99.66 L195.50,101.26 L193.90,102.86 Z" fill="none" stroke="#999" stroke-width="0.6"/>
<circle cx="193.90" cy="108.28" r="3.1" fill="#fff" stroke="#3c3c3c" stroke-width="1.1"/>
<path d="M192.30,108.28 L193.90,106.68 L195.50,108.28 L193.90,109.88 Z" fill="none" stroke="#999" stroke-width="0.6"/>
<circle cx="193.90" cy="115.29" r="3.1" fill="#fff" stroke="#3c3c3c" stroke-width="1.1"/>
<path d="M192.30,115.29 L193.90,113.69 L195.50,115.29 L193.90,116.89 Z" fill="none" stroke="#999" stroke-width="0.6"/>
<rect x="123.8" y="157.7" width="13.4" height="70.1" rx="0" fill="none" stroke="#555" stroke-width="1.0" />
<line x1="126.8" y1="157.7" x2="126.8" y2="227.8" stroke="#555" stroke-width="0.9" />
<line x1="133.79999999999998" y1="157.7" x2="133.79999999999998" y2="227.8" stroke="#888" stroke-width="0.7" />
<line x1="123.8" y1="171" x2="137.2" y2="171" stroke="#888" stroke-width="1.0" />
<line x1="123.8" y1="192.2" x2="137.2" y2="192.2" stroke="#888" stroke-width="1.0" />
<line x1="123.8" y1="214.4" x2="137.2" y2="214.4" stroke="#888" stroke-width="1.0" />
<circle cx="130.80" cy="161.20" r="3.1" fill="#fff" stroke="#3c3c3c" stroke-width="1.1"/>
<path d="M129.20,161.20 L130.80,159.60 L132.40,161.20 L130.80,162.80 Z" fill="none" stroke="#999" stroke-width="0.6"/>
<circle cx="130.80" cy="168.22" r="3.1" fill="#fff" stroke="#3c3c3c" stroke-width="1.1"/>
<path d="M129.20,168.22 L130.80,166.62 L132.40,168.22 L130.80,169.81 Z" fill="none" stroke="#999" stroke-width="0.6"/>
<circle cx="130.80" cy="175.22" r="3.1" fill="#fff" stroke="#3c3c3c" stroke-width="1.1"/>
<path d="M129.20,175.22 L130.80,173.62 L132.40,175.22 L130.80,176.82 Z" fill="none" stroke="#999" stroke-width="0.6"/>
<circle cx="130.80" cy="182.23" r="3.1" fill="#fff" stroke="#3c3c3c" stroke-width="1.1"/>
<path d="M129.20,182.23 L130.80,180.63 L132.40,182.23 L130.80,183.83 Z" fill="none" stroke="#999" stroke-width="0.6"/>
<circle cx="130.80" cy="189.25" r="3.1" fill="#fff" stroke="#3c3c3c" stroke-width="1.1"/>
<path d="M129.20,189.25 L130.80,187.65 L132.40,189.25 L130.80,190.84 Z" fill="none" stroke="#999" stroke-width="0.6"/>
<circle cx="130.80" cy="196.25" r="3.1" fill="#fff" stroke="#3c3c3c" stroke-width="1.1"/>
<path d="M129.20,196.25 L130.80,194.66 L132.40,196.25 L130.80,197.85 Z" fill="none" stroke="#999" stroke-width="0.6"/>
<circle cx="130.80" cy="203.27" r="3.1" fill="#fff" stroke="#3c3c3c" stroke-width="1.1"/>
<path d="M129.20,203.27 L130.80,201.67 L132.40,203.27 L130.80,204.87 Z" fill="none" stroke="#999" stroke-width="0.6"/>
<circle cx="130.80" cy="210.28" r="3.1" fill="#fff" stroke="#3c3c3c" stroke-width="1.1"/>
<path d="M129.20,210.28 L130.80,208.68 L132.40,210.28 L130.80,211.88 Z" fill="none" stroke="#999" stroke-width="0.6"/>
<circle cx="130.80" cy="217.29" r="3.1" fill="#fff" stroke="#3c3c3c" stroke-width="1.1"/>
<path d="M129.20,217.29 L130.80,215.69 L132.40,217.29 L130.80,218.89 Z" fill="none" stroke="#999" stroke-width="0.6"/>
<circle cx="130.80" cy="224.30" r="3.1" fill="#fff" stroke="#3c3c3c" stroke-width="1.1"/>
<path d="M129.20,224.30 L130.80,222.70 L132.40,224.30 L130.80,225.90 Z" fill="none" stroke="#999" stroke-width="0.6"/>
<rect x="186.7" y="165" width="13.6" height="62.8" rx="0" fill="none" stroke="#555" stroke-width="1.0" />
<line x1="189.7" y1="165" x2="189.7" y2="227.8" stroke="#555" stroke-width="0.9" />
<line x1="196.9" y1="165" x2="196.9" y2="227.8" stroke="#888" stroke-width="0.7" />
<line x1="186.7" y1="185.9" x2="200.3" y2="185.9" stroke="#888" stroke-width="1.0" />
<line x1="186.7" y1="207.2" x2="200.3" y2="207.2" stroke="#888" stroke-width="1.0" />
<circle cx="193.80" cy="168.49" r="3.1" fill="#fff" stroke="#3c3c3c" stroke-width="1.1"/>
<path d="M192.20,168.49 L193.80,166.89 L195.40,168.49 L193.80,170.09 Z" fill="none" stroke="#999" stroke-width="0.6"/>
<circle cx="193.80" cy="175.47" r="3.1" fill="#fff" stroke="#3c3c3c" stroke-width="1.1"/>
<path d="M192.20,175.47 L193.80,173.87 L195.40,175.47 L193.80,177.07 Z" fill="none" stroke="#999" stroke-width="0.6"/>
<circle cx="193.80" cy="182.44" r="3.1" fill="#fff" stroke="#3c3c3c" stroke-width="1.1"/>
<path d="M192.20,182.44 L193.80,180.84 L195.40,182.44 L193.80,184.04 Z" fill="none" stroke="#999" stroke-width="0.6"/>
<circle cx="193.80" cy="189.42" r="3.1" fill="#fff" stroke="#3c3c3c" stroke-width="1.1"/>
<path d="M192.20,189.42 L193.80,187.82 L195.40,189.42 L193.80,191.02 Z" fill="none" stroke="#999" stroke-width="0.6"/>
<circle cx="193.80" cy="196.40" r="3.1" fill="#fff" stroke="#3c3c3c" stroke-width="1.1"/>
<path d="M192.20,196.40 L193.80,194.80 L195.40,196.40 L193.80,198.00 Z" fill="none" stroke="#999" stroke-width="0.6"/>
<circle cx="193.80" cy="203.38" r="3.1" fill="#fff" stroke="#3c3c3c" stroke-width="1.1"/>
<path d="M192.20,203.38 L193.80,201.78 L195.40,203.38 L193.80,204.98 Z" fill="none" stroke="#999" stroke-width="0.6"/>
<circle cx="193.80" cy="210.36" r="3.1" fill="#fff" stroke="#3c3c3c" stroke-width="1.1"/>
<path d="M192.20,210.36 L193.80,208.76 L195.40,210.36 L193.80,211.96 Z" fill="none" stroke="#999" stroke-width="0.6"/>
<circle cx="193.80" cy="217.33" r="3.1" fill="#fff" stroke="#3c3c3c" stroke-width="1.1"/>
<path d="M192.20,217.33 L193.80,215.73 L195.40,217.33 L193.80,218.93 Z" fill="none" stroke="#999" stroke-width="0.6"/>
<circle cx="193.80" cy="224.31" r="3.1" fill="#fff" stroke="#3c3c3c" stroke-width="1.1"/>
<path d="M192.20,224.31 L193.80,222.71 L195.40,224.31 L193.80,225.91 Z" fill="none" stroke="#999" stroke-width="0.6"/>
<line x1="162.6" y1="166.1" x2="162.6" y2="228.6" stroke="#444" stroke-width="0.8" />
<text x="141" y="84.2" font-size="6.6" text-anchor="start" fill="#222" font-weight="normal" stroke="#222" stroke-width="0.28">MB_A</text>
<text x="141" y="90.9" font-size="6.6" text-anchor="start" fill="#222" font-weight="normal" stroke="#222" stroke-width="0.28">MB_B</text>
<text x="141" y="98.0" font-size="6.6" text-anchor="start" fill="#222" font-weight="normal" stroke="#222" stroke-width="0.28">+24V</text>
<text x="141" y="104.9" font-size="6.6" text-anchor="start" fill="#222" font-weight="normal" stroke="#222" stroke-width="0.28">RS_A</text>
<text x="141" y="111.80000000000001" font-size="6.6" text-anchor="start" fill="#222" font-weight="normal" stroke="#222" stroke-width="0.28">RS_B</text>
<text x="141" y="118.4" font-size="6.6" text-anchor="start" fill="#222" font-weight="normal" stroke="#222" stroke-width="0.28">GND</text>
<text x="186" y="84.2" font-size="6.6" text-anchor="end" fill="#222" font-weight="normal" stroke="#222" stroke-width="0.28">MB_A</text>
<text x="186" y="90.9" font-size="6.6" text-anchor="end" fill="#222" font-weight="normal" stroke="#222" stroke-width="0.28">MB_B</text>
<text x="186" y="98.0" font-size="6.6" text-anchor="end" fill="#222" font-weight="normal" stroke="#222" stroke-width="0.28">+24V</text>
<text x="186" y="104.9" font-size="6.6" text-anchor="end" fill="#222" font-weight="normal" stroke="#222" stroke-width="0.28">RS_A</text>
<text x="186" y="111.80000000000001" font-size="6.6" text-anchor="end" fill="#222" font-weight="normal" stroke="#222" stroke-width="0.28">RS_B</text>
<text x="186" y="118.2" font-size="6.6" text-anchor="end" fill="#222" font-weight="normal" stroke="#222" stroke-width="0.28">GND</text>
<text x="140.4" y="164.6" font-size="6.6" text-anchor="start" fill="#222" font-weight="normal" stroke="#222" stroke-width="0.28">NTC</text>
<text x="140.4" y="171.4" font-size="6.6" text-anchor="start" fill="#222" font-weight="normal" stroke="#222" stroke-width="0.28">GND</text>
<text x="142" y="178.8" font-size="6.6" text-anchor="start" fill="#222" font-weight="normal" stroke="#222" stroke-width="0.28">+24V</text>
<text x="141" y="185.1" font-size="6.6" text-anchor="start" fill="#222" font-weight="normal" stroke="#222" stroke-width="0.28">RS_A</text>
<text x="141" y="191.9" font-size="6.6" text-anchor="start" fill="#222" font-weight="normal" stroke="#222" stroke-width="0.28">RS_B</text>
<text x="141" y="198.9" font-size="6.6" text-anchor="start" fill="#222" font-weight="normal" stroke="#222" stroke-width="0.28">GND</text>
<text x="140.3" y="205.70000000000002" font-size="6.6" text-anchor="start" fill="#222" font-weight="normal" stroke="#222" stroke-width="0.28">+24V</text>
<text x="142.8" y="212.0" font-size="6.6" text-anchor="start" fill="#222" font-weight="normal" stroke="#222" stroke-width="0.28">DI/1</text>
<text x="140.3" y="219.5" font-size="6.6" text-anchor="start" fill="#222" font-weight="normal" stroke="#222" stroke-width="0.28">+24V</text>
<text x="142.8" y="226.3" font-size="6.6" text-anchor="start" fill="#222" font-weight="normal" stroke="#222" stroke-width="0.28">DI/2</text>
<text x="185.5" y="171.70000000000002" font-size="6.6" text-anchor="end" fill="#222" font-weight="normal" stroke="#222" stroke-width="0.28">+24V</text>
<text x="185.5" y="178.8" font-size="6.6" text-anchor="end" fill="#222" font-weight="normal" stroke="#222" stroke-width="0.28">RS_A</text>
<text x="185.5" y="185.1" font-size="6.6" text-anchor="end" fill="#222" font-weight="normal" stroke="#222" stroke-width="0.28">RS_B</text>
<text x="185.5" y="192.70000000000002" font-size="6.6" text-anchor="end" fill="#222" font-weight="normal" stroke="#222" stroke-width="0.28">GND</text>
<text x="185.5" y="199.0" font-size="6.6" text-anchor="end" fill="#222" font-weight="normal" stroke="#222" stroke-width="0.28">+11V1</text>
<text x="185.5" y="206.5" font-size="6.6" text-anchor="end" fill="#222" font-weight="normal" stroke="#222" stroke-width="0.28">AN/I</text>
<text x="185.5" y="213.9" font-size="6.6" text-anchor="end" fill="#222" font-weight="normal" stroke="#222" stroke-width="0.28">GND</text>
<text x="185.5" y="219.9" font-size="6.6" text-anchor="end" fill="#222" font-weight="normal" stroke="#222" stroke-width="0.28">RM/I</text>
<text x="185.5" y="227.1" font-size="6.6" text-anchor="end" fill="#222" font-weight="normal" stroke="#222" stroke-width="0.28">RM/O</text>
<rect x="146.2" y="124.7" width="32.4" height="9.7" rx="0" fill="none" stroke="#1a1a1a" stroke-width="1.8" />
<circle cx="155.0" cy="128.09" r="1.0" fill="#1a1a1a"/>
<circle cx="158.7" cy="128.09" r="1.0" fill="#1a1a1a"/>
<circle cx="162.4" cy="128.09" r="1.0" fill="#1a1a1a"/>
<circle cx="166.1" cy="128.09" r="1.0" fill="#1a1a1a"/>
<circle cx="169.8" cy="128.09" r="1.0" fill="#1a1a1a"/>
<circle cx="155.0" cy="131.3" r="1.0" fill="#1a1a1a"/>
<circle cx="158.7" cy="131.3" r="1.0" fill="#1a1a1a"/>
<circle cx="162.4" cy="131.3" r="1.0" fill="#1a1a1a"/>
<circle cx="166.1" cy="131.3" r="1.0" fill="#1a1a1a"/>
<circle cx="169.8" cy="131.3" r="1.0" fill="#1a1a1a"/>
<rect x="129.7" y="141.9" width="31.7" height="10.5" rx="0" fill="none" stroke="#1a1a1a" stroke-width="1.8" />
<circle cx="138.15" cy="145.58" r="1.0" fill="#1a1a1a"/>
<circle cx="141.85" cy="145.58" r="1.0" fill="#1a1a1a"/>
<circle cx="145.55" cy="145.58" r="1.0" fill="#1a1a1a"/>
<circle cx="149.25" cy="145.58" r="1.0" fill="#1a1a1a"/>
<circle cx="152.95" cy="145.58" r="1.0" fill="#1a1a1a"/>
<circle cx="138.15" cy="149.04" r="1.0" fill="#1a1a1a"/>
<circle cx="141.85" cy="149.04" r="1.0" fill="#1a1a1a"/>
<circle cx="145.55" cy="149.04" r="1.0" fill="#1a1a1a"/>
<circle cx="149.25" cy="149.04" r="1.0" fill="#1a1a1a"/>
<circle cx="152.95" cy="149.04" r="1.0" fill="#1a1a1a"/>
<rect x="162.3" y="141.9" width="32.4" height="10.5" rx="0" fill="none" stroke="#1a1a1a" stroke-width="1.8" />
<circle cx="171.1" cy="145.58" r="1.0" fill="#1a1a1a"/>
<circle cx="174.8" cy="145.58" r="1.0" fill="#1a1a1a"/>
<circle cx="178.5" cy="145.58" r="1.0" fill="#1a1a1a"/>
<circle cx="182.2" cy="145.58" r="1.0" fill="#1a1a1a"/>
<circle cx="185.9" cy="145.58" r="1.0" fill="#1a1a1a"/>
<circle cx="171.1" cy="149.04" r="1.0" fill="#1a1a1a"/>
<circle cx="174.8" cy="149.04" r="1.0" fill="#1a1a1a"/>
<circle cx="178.5" cy="149.04" r="1.0" fill="#1a1a1a"/>
<circle cx="182.2" cy="149.04" r="1.0" fill="#1a1a1a"/>
<circle cx="185.9" cy="149.04" r="1.0" fill="#1a1a1a"/>
<text x="183.9" y="134.1" font-size="8" text-anchor="start" fill="#111" font-weight="bold" textLength="25.4" lengthAdjust="spacingAndGlyphs" stroke="#111" stroke-width="0.35">TESTER</text>
<polyline points="162.4,141.9 167.4,137.3 310.5,137.3 359.1,94 517.7,94" fill="none" stroke="#4a4a4a" stroke-width="1.4" stroke-linejoin="miter" />
<circle cx="365.6" cy="213" r="11.2" fill="none" stroke="#1a1a1a" stroke-width="1.5"/>
<line x1="365.6" y1="201.8" x2="365.6" y2="211.4" stroke="#1a1a1a" stroke-width="1.4" />
<line x1="354.6" y1="211.8" x2="376.6" y2="211.8" stroke="#1a1a1a" stroke-width="1.6" />
<line x1="357.4" y1="215.2" x2="373.4" y2="215.2" stroke="#1a1a1a" stroke-width="1.6" />
<line x1="361.2" y1="218.4" x2="369.4" y2="218.4" stroke="#1a1a1a" stroke-width="1.6" />
<polyline points="366.1,224.3 366.1,274.3" fill="none" stroke="#4a4a4a" stroke-width="1.5" stroke-linejoin="miter" />
<polyline points="366.1,243.5 422.3,243.5 422.3,241.5" fill="none" stroke="#4a4a4a" stroke-width="1.5" stroke-linejoin="miter" />
<polyline points="366.1,253.9 454.4,253.9 454.4,258 480.1,258 480.1,241.5" fill="none" stroke="#4a4a4a" stroke-width="1.5" stroke-linejoin="miter" />
<polyline points="366.1,264.2 467.2,264.2" fill="none" stroke="#4a4a4a" stroke-width="1.5" stroke-linejoin="miter" />
<polyline points="472.8,264.2 484.5,264.2 484.5,268.5 498.8,268.5 498.8,241.5" fill="none" stroke="#4a4a4a" stroke-width="1.5" stroke-linejoin="miter" />
<polyline points="366.1,274.3 467.2,274.3" fill="none" stroke="#4a4a4a" stroke-width="1.5" stroke-linejoin="miter" />
<polyline points="472.8,274.3 486.4,274.3" fill="none" stroke="#4a4a4a" stroke-width="1.5" stroke-linejoin="miter" />
<polyline points="492.6,274.3 500.7,274.3 500.7,281.1 518.3,281.1 518.3,241.5" fill="none" stroke="#4a4a4a" stroke-width="1.5" stroke-linejoin="miter" />
<polyline points="470.6,241.5 470.6,289.6 128.9,289.6 128.9,461" fill="none" stroke="#4a4a4a" stroke-width="1.5" stroke-linejoin="miter" />
<polyline points="489.4,241.5 489.4,361.3 358.8,361.3 358.8,427.5" fill="none" stroke="#4a4a4a" stroke-width="1.5" stroke-linejoin="miter" />
<polyline points="509,241.5 509,373.7 438.4,373.7 438.4,427.5" fill="none" stroke="#4a4a4a" stroke-width="1.5" stroke-linejoin="miter" />
<polyline points="657,167.6 664.1,167.6 664.1,385 580,385" fill="none" stroke="#4a4a4a" stroke-width="1.5" stroke-linejoin="miter" />
<polyline points="573,385 535.5,385" fill="none" stroke="#4a4a4a" stroke-width="1.5" stroke-linejoin="miter" />
<polyline points="530,385 446.6,385 446.6,427.5" fill="none" stroke="#4a4a4a" stroke-width="1.5" stroke-linejoin="miter" />
<polyline points="657,148.3 675.7,148.3 675.7,403.2 580,403.2" fill="none" stroke="#4a4a4a" stroke-width="1.5" stroke-linejoin="miter" />
<polyline points="573,403.2 535.5,403.2" fill="none" stroke="#4a4a4a" stroke-width="1.5" stroke-linejoin="miter" />
<polyline points="530,403.2 449,403.2" fill="none" stroke="#4a4a4a" stroke-width="1.5" stroke-linejoin="miter" />
<polyline points="435.4,403.2 366.4,403.2 366.4,427.5" fill="none" stroke="#4a4a4a" stroke-width="1.5" stroke-linejoin="miter" />
<polyline points="528.2,241.5 528.2,258" fill="none" stroke="#4a4a4a" stroke-width="1.5" stroke-linejoin="miter" />
<polyline points="537.6,241.5 537.6,258" fill="none" stroke="#4a4a4a" stroke-width="1.5" stroke-linejoin="miter" />
<line x1="528.2" y1="258" x2="537.6" y2="258" stroke="#2a2aff" stroke-width="1.2" />
<polyline points="532.9,258 532.9,501.3" fill="none" stroke="#4a4a4a" stroke-width="1.5" stroke-linejoin="miter" />
<polyline points="566.7,241.5 566.7,257.8 585.4,257.8 585.4,241.5" fill="none" stroke="#4a4a4a" stroke-width="1.5" stroke-linejoin="miter" />
<polyline points="576.1,241.5 576.1,432.2" fill="none" stroke="#4a4a4a" stroke-width="1.5" stroke-linejoin="miter" />
<text x="468.9" y="252.8" font-size="7" text-anchor="start" fill="#222" font-weight="normal" textLength="9" lengthAdjust="spacingAndGlyphs" transform="rotate(-90 468.9 252.8)" >BN</text>
<text x="477.8" y="252.8" font-size="7" text-anchor="start" fill="#222" font-weight="normal" textLength="9" lengthAdjust="spacingAndGlyphs" transform="rotate(-90 477.8 252.8)" >BU</text>
<text x="487.7" y="252.8" font-size="7" text-anchor="start" fill="#222" font-weight="normal" textLength="9" lengthAdjust="spacingAndGlyphs" transform="rotate(-90 487.7 252.8)" >BN</text>
<text x="496.6" y="252.8" font-size="7" text-anchor="start" fill="#222" font-weight="normal" textLength="9" lengthAdjust="spacingAndGlyphs" transform="rotate(-90 496.6 252.8)" >BU</text>
<text x="506.5" y="252.8" font-size="7" text-anchor="start" fill="#222" font-weight="normal" textLength="9" lengthAdjust="spacingAndGlyphs" transform="rotate(-90 506.5 252.8)" >BN</text>
<text x="515.6" y="252.8" font-size="7" text-anchor="start" fill="#222" font-weight="normal" textLength="9" lengthAdjust="spacingAndGlyphs" transform="rotate(-90 515.6 252.8)" >BU</text>
<text x="525.8" y="252.8" font-size="7" text-anchor="start" fill="#222" font-weight="normal" textLength="9" lengthAdjust="spacingAndGlyphs" transform="rotate(-90 525.8 252.8)" >BN</text>
<text x="535.9" y="252.8" font-size="7" text-anchor="start" fill="#222" font-weight="normal" textLength="9" lengthAdjust="spacingAndGlyphs" transform="rotate(-90 535.9 252.8)" >BU</text>
<text x="564.9" y="244.4" font-size="9.3" text-anchor="end" fill="#222" font-weight="normal" textLength="5.9" lengthAdjust="spacingAndGlyphs" transform="rotate(-90 564.9 244.4)" >2</text>
<text x="575.4" y="244.4" font-size="9.3" text-anchor="end" fill="#222" font-weight="normal" textLength="5.9" lengthAdjust="spacingAndGlyphs" transform="rotate(-90 575.4 244.4)" >3</text>
<text x="584.4" y="244.4" font-size="9.3" text-anchor="end" fill="#222" font-weight="normal" textLength="5.9" lengthAdjust="spacingAndGlyphs" transform="rotate(-90 584.4 244.4)" >1</text>
<circle cx="575.9" cy="444" r="11.6" fill="none" stroke="#1a1a1a" stroke-width="1.3"/>
<path d="M569.9,449.3 L571.3,438.2 L575.8,448.4 L580.4,438.2 L582.0,449.3" fill="none" stroke="#111" stroke-width="1.8" stroke-linejoin="bevel"/>
<path d="M118.9,481 V470.5 A9.6,9.8 0 0 1 138.1,470.5 V481" fill="none" stroke="#111" stroke-width="1.3"/>
<rect x="118.4" y="481" width="20.2" height="2.7" rx="0.8" fill="#fff" stroke="#111" stroke-width="1.2"/>
<rect x="120.7" y="483.7" width="2.7" height="6.4" rx="1.1" fill="#fff" stroke="#111" stroke-width="1.1"/>
<rect x="132.6" y="483.7" width="2.7" height="6.4" rx="1.1" fill="#fff" stroke="#111" stroke-width="1.1"/>
<text x="11.4" y="478.9" font-size="17.4" text-anchor="start" fill="#111" font-weight="normal" textLength="93.3" lengthAdjust="spacingAndGlyphs" stroke="#111" stroke-width="0.25">230V 50Hz</text>
<rect x="354.9" y="427.3" width="16.1" height="36.1" rx="0" fill="none" stroke="#1a1a1a" stroke-width="1.6" />
<line x1="354.9" y1="437.7" x2="371" y2="437.7" stroke="#1a1a1a" stroke-width="1.3" />
<line x1="354.9" y1="448.4" x2="371" y2="448.4" stroke="#333" stroke-width="0.9" />
<line x1="354.9" y1="450.1" x2="371" y2="450.1" stroke="#333" stroke-width="0.9" />
<line x1="354.9" y1="449.25" x2="371" y2="449.25" stroke="#bbb" stroke-width="0.8" />
<ellipse cx="362.70" cy="448.75" rx="1.4" ry="3.3" fill="#333" stroke="#000" stroke-width="1.1"/>
<circle cx="358.3" cy="432.4" r="1.8" fill="#1a1a1a"/>
<circle cx="367.7" cy="432.4" r="1.8" fill="#1a1a1a"/>
<circle cx="358.3" cy="459.3" r="1.8" fill="#1a1a1a"/>
<circle cx="367.7" cy="459.3" r="1.8" fill="#1a1a1a"/>
<polyline points="358.8,463.4 358.8,472 346.3,472 346.3,578.98" fill="none" stroke="#4a4a4a" stroke-width="1.5" stroke-linejoin="miter" />
<polyline points="366.4,463.4 366.4,472 379.5,472 379.5,579.13" fill="none" stroke="#4a4a4a" stroke-width="1.5" stroke-linejoin="miter" />
<polyline points="336.4,591.63 336.4,526.6 356.5,526.6 356.5,574.41" fill="none" stroke="#222" stroke-width="1.4" stroke-linejoin="miter" />
<polyline points="370.1,574.65 370.1,526.6 389.5,526.6 389.5,592.42" fill="none" stroke="#222" stroke-width="1.4" stroke-linejoin="miter" />
<circle cx="362.8" cy="602.1" r="28.4" fill="none" stroke="#1a1a1a" stroke-width="1.35"/>
<path d="M338.15,588.00 H387.45 L362.80,630.30 Z" fill="none" stroke="#1a1a1a" stroke-width="1.4" stroke-linejoin="round"/>
<text x="335.20000000000005" y="558.3" font-size="7.2" text-anchor="start" fill="#222" font-weight="normal" transform="rotate(-90 335.20000000000005 558.3)" >BU</text>
<text x="346.0" y="558.3" font-size="7.2" text-anchor="start" fill="#222" font-weight="normal" transform="rotate(-90 346.0 558.3)" >YEGN</text>
<text x="356.0" y="558.3" font-size="7.2" text-anchor="start" fill="#222" font-weight="normal" transform="rotate(-90 356.0 558.3)" >BN</text>
<text x="368.90000000000003" y="558.3" font-size="7.2" text-anchor="start" fill="#222" font-weight="normal" transform="rotate(-90 368.90000000000003 558.3)" >YE</text>
<text x="378.6" y="558.3" font-size="7.2" text-anchor="start" fill="#222" font-weight="normal" transform="rotate(-90 378.6 558.3)" >GN</text>
<text x="388.40000000000003" y="558.3" font-size="7.2" text-anchor="start" fill="#222" font-weight="normal" transform="rotate(-90 388.40000000000003 558.3)" >WT</text>
<path d="M362.8,599.4 V615.6" stroke="#222" stroke-width="3.8" stroke-linecap="round"/>
<path d="M362.8,599.4 V615.6" stroke="#8a8a8a" stroke-width="2.1" stroke-linecap="round"/>
<path d="M358.3,597.5 H367.3" stroke="#222" stroke-width="3.0" stroke-linecap="round"/>
<path d="M358.3,597.5 H367.3" stroke="#fff" stroke-width="1.3" stroke-linecap="round"/>
<rect x="434.7" y="427.3" width="16.1" height="36.1" rx="0" fill="none" stroke="#1a1a1a" stroke-width="1.6" />
<line x1="434.7" y1="437.7" x2="450.8" y2="437.7" stroke="#1a1a1a" stroke-width="1.3" />
<line x1="434.7" y1="448.4" x2="450.8" y2="448.4" stroke="#333" stroke-width="0.9" />
<line x1="434.7" y1="450.1" x2="450.8" y2="450.1" stroke="#333" stroke-width="0.9" />
<line x1="434.7" y1="449.25" x2="450.8" y2="449.25" stroke="#bbb" stroke-width="0.8" />
<ellipse cx="442.50" cy="448.75" rx="1.4" ry="3.3" fill="#333" stroke="#000" stroke-width="1.1"/>
<circle cx="438.1" cy="432.4" r="1.8" fill="#1a1a1a"/>
<circle cx="447.5" cy="432.4" r="1.8" fill="#1a1a1a"/>
<circle cx="438.1" cy="459.3" r="1.8" fill="#1a1a1a"/>
<circle cx="447.5" cy="459.3" r="1.8" fill="#1a1a1a"/>
<polyline points="438.6,463.4 438.6,472 426.1,472 426.1,579.98" fill="none" stroke="#4a4a4a" stroke-width="1.5" stroke-linejoin="miter" />
<polyline points="446.2,463.4 446.2,472 459.3,472 459.3,580.13" fill="none" stroke="#4a4a4a" stroke-width="1.5" stroke-linejoin="miter" />
<polyline points="416.2,592.63 416.2,527.6 436.3,527.6 436.3,575.41" fill="none" stroke="#222" stroke-width="1.4" stroke-linejoin="miter" />
<polyline points="449.90000000000003,575.65 449.90000000000003,527.6 469.3,527.6 469.3,593.42" fill="none" stroke="#222" stroke-width="1.4" stroke-linejoin="miter" />
<circle cx="442.6" cy="603.1" r="28.4" fill="none" stroke="#1a1a1a" stroke-width="1.35"/>
<path d="M417.95,589.00 H467.25 L442.60,631.30 Z" fill="none" stroke="#1a1a1a" stroke-width="1.4" stroke-linejoin="round"/>
<text x="414.1" y="554.7" font-size="7.2" text-anchor="start" fill="#222" font-weight="normal" transform="rotate(-90 414.1 554.7)" >BU</text>
<text x="425.1" y="561.5" font-size="7.2" text-anchor="start" fill="#222" font-weight="normal" transform="rotate(-90 425.1 561.5)" >YEGN</text>
<text x="433.90000000000003" y="553.6" font-size="7.2" text-anchor="start" fill="#222" font-weight="normal" transform="rotate(-90 433.90000000000003 553.6)" >BN</text>
<text x="447.50000000000006" y="554" font-size="7.2" text-anchor="start" fill="#222" font-weight="normal" transform="rotate(-90 447.50000000000006 554)" >YE</text>
<text x="457.3" y="554.5" font-size="7.2" text-anchor="start" fill="#222" font-weight="normal" transform="rotate(-90 457.3 554.5)" >GN</text>
<text x="468.40000000000003" y="554.5" font-size="7.2" text-anchor="start" fill="#222" font-weight="normal" transform="rotate(-90 468.40000000000003 554.5)" >WH</text>
<path d="M440.1,616.0 V598.7 H446.0 A4.3,4.3 0 0 1 446.0,607.3 H440.1" fill="none" stroke="#333" stroke-width="3.5" stroke-linecap="round" stroke-linejoin="round"/>
<path d="M440.1,616.0 V598.7 H446.0 A4.3,4.3 0 0 1 446.0,607.3 H440.1" fill="none" stroke="#9a9a9a" stroke-width="1.8" stroke-linecap="round" stroke-linejoin="round"/>
<polyline points="524.4,534.8 524.4,501.3 541.3,501.3 541.3,534.8" fill="none" stroke="#1a1a1a" stroke-width="1.2" stroke-linejoin="miter" />
<polyline points="497.4,519.9 567.6,519.9" fill="none" stroke="#1a1a1a" stroke-width="1.2" stroke-linejoin="miter" stroke-dasharray="27 5 6 5.5 40"/>
<polyline points="497.4,601 567.6,601" fill="none" stroke="#1a1a1a" stroke-width="1.2" stroke-linejoin="miter" stroke-dasharray="27.6 5 5.5 4.7 40"/>
<polyline points="497.4,519.9 497.4,601" fill="none" stroke="#1a1a1a" stroke-width="1.2" stroke-linejoin="miter" stroke-dasharray="34 4.5 6 4.5 40"/>
<polyline points="567.6,519.9 567.6,601" fill="none" stroke="#1a1a1a" stroke-width="1.2" stroke-linejoin="miter" stroke-dasharray="34 4.5 6 4.5 40"/>
<line x1="524.4" y1="546" x2="528.0" y2="535.4" stroke="#1a1a1a" stroke-width="1.1" />
<line x1="526.6999999999999" y1="535.4" x2="529.6" y2="534.8" stroke="#1a1a1a" stroke-width="1.1" />
<circle cx="524.4" cy="546.2" r="1.45" fill="#1a1a1a"/>
<circle cx="524.4" cy="551.3" r="1.45" fill="#1a1a1a"/>
<line x1="541.3" y1="546" x2="544.9" y2="535.4" stroke="#1a1a1a" stroke-width="1.1" />
<line x1="543.5999999999999" y1="535.4" x2="546.5" y2="534.8" stroke="#1a1a1a" stroke-width="1.1" />
<circle cx="541.3" cy="546.2" r="1.45" fill="#1a1a1a"/>
<circle cx="541.3" cy="551.3" r="1.45" fill="#1a1a1a"/>
<path d="M524.4,546 V586 A2.6,2.6 0 0 0 529.6,586 V569.4 A3,3 0 0 1 535.6,569.4 V586 A2.6,2.6 0 0 0 541.3,586 V546" fill="none" stroke="#1a1a1a" stroke-width="1.2"/>
<text x="505" y="532.7" font-size="12" text-anchor="start" fill="#111" font-weight="normal" textLength="11.8" lengthAdjust="spacingAndGlyphs" stroke="#111" stroke-width="0.35">T1</text>
<text x="545.9" y="532.7" font-size="12" text-anchor="start" fill="#111" font-weight="normal" textLength="14" lengthAdjust="spacingAndGlyphs" stroke="#111" stroke-width="0.35">T2</text>
<text x="501.5" y="546.2" font-size="8.5" text-anchor="start" fill="#222" font-weight="normal" textLength="19" lengthAdjust="spacingAndGlyphs" >130°C</text>
<text x="546.6" y="546.2" font-size="8.5" text-anchor="start" fill="#222" font-weight="normal" textLength="17.2" lengthAdjust="spacingAndGlyphs" >90°C</text>
<circle cx="508" cy="579.1" r="4.3" fill="none" stroke="#1a1a1a" stroke-width="1.5"/>
<line x1="508" y1="575.3" x2="508" y2="578.9" stroke="#1a1a1a" stroke-width="1.2" />
<line x1="504.2" y1="579.2" x2="511.8" y2="579.2" stroke="#1a1a1a" stroke-width="1.3" />
<line x1="505.4" y1="580.9" x2="510.6" y2="580.9" stroke="#1a1a1a" stroke-width="1.2" />
<line x1="506.7" y1="582.4" x2="509.3" y2="582.4" stroke="#1a1a1a" stroke-width="1.2" />
<text x="525.8" y="620.6" font-size="17" text-anchor="start" fill="#111" font-weight="normal" textLength="15.8" lengthAdjust="spacingAndGlyphs" stroke="#111" stroke-width="0.3">R1</text>
</svg>
</body></html>
